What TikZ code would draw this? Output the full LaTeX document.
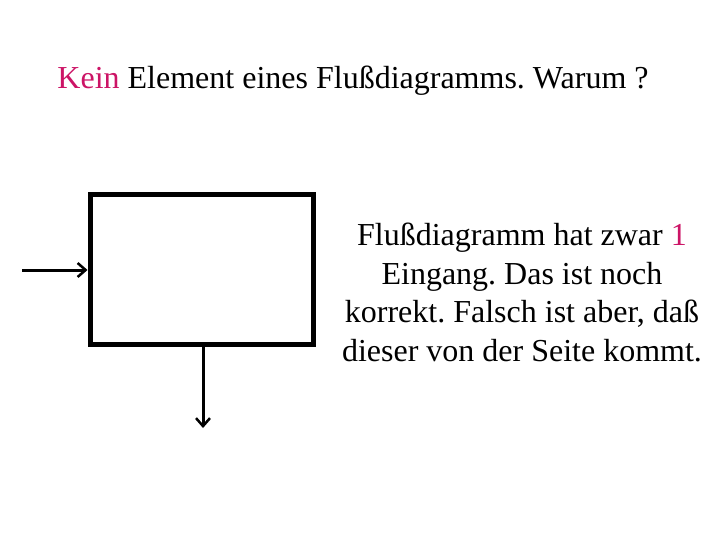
\documentclass[tikz,border=0pt]{standalone}
\usepackage{fontspec}
\setmainfont{Liberation Serif}
\usetikzlibrary{arrows.meta}
\definecolor{accent}{RGB}{204,20,102}
\frenchspacing
\begin{document}
\begin{tikzpicture}[x=1pt,y=-1pt,
  boxstyle/.style={draw=black,line width=5pt,minimum width=223pt,minimum height=149pt,inner sep=0pt},
  conn/.style={line width=3pt,-{Straight Barb[length=8pt,width=14pt,line width=2.5pt]}},
  txt/.style={font=\fontsize{32}{38.5}\selectfont,inner sep=0pt}]
\useasboundingbox (0,0) rectangle (720,540);
\node[boxstyle] (box) at (201.5,269.5) {};
\coordinate (in) at (22,270);
\coordinate (out) at (203,428);
\draw[conn] (in) -- (box.west |- in);
\draw[conn] (box.south -| out) -- (out);
\node[txt,anchor=base] (title) at (353,89) {\textcolor{accent}{Kein} Element eines Flußdiagramms. Warum ?};
\node[txt,align=center,anchor=north] (note) at (522,223) {Flußdiagramm hat zwar \textcolor{accent}{1}\\Eingang. Das ist noch\\korrekt. Falsch ist aber, daß\\dieser von der Seite kommt.};
\end{tikzpicture}
\end{document}
